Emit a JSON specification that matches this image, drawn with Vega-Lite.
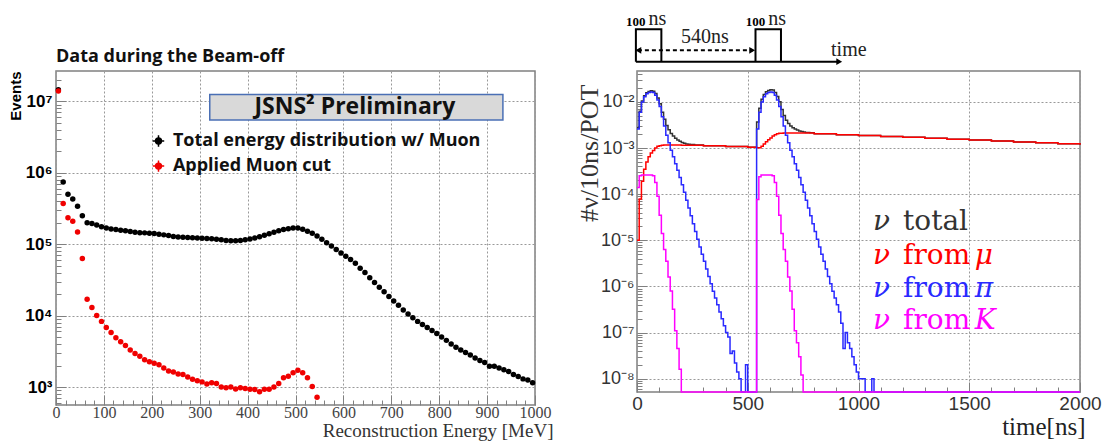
{
  "$schema": "https://vega.github.io/schema/vega-lite/v6.json",
  "padding": {"left": 7, "top": 8, "right": 5, "bottom": 0},
  "background": "white",
  "columns": 2,
  "align": "each",
  "bounds": "flush",
  "spacing": {"row": 5, "column": 102},
  "resolve": {"scale": {"x": "independent", "y": "independent", "color": "independent", "shape": "independent"}},
  "config": {
    "view": {"stroke": "#808080", "strokeWidth": 1.5},
    "axis": {"domain": false, "gridColor": "#999999", "gridDash": [2, 2], "gridWidth": 1, "tickColor": "#808080", "tickWidth": 1, "labelFlush": false, "labelOverlap": false}
  },
  "datasets": {
    "energy": [
      {"s":"total","E":5,"n":14500000},{"s":"total","E":15,"n":740000},{"s":"total","E":25,"n":500000},{"s":"total","E":35,"n":430000},{"s":"total","E":45,"n":340000},{"s":"total","E":55,"n":250000},{"s":"total","E":65,"n":200000},{"s":"total","E":75,"n":195000},{"s":"total","E":85,"n":185000},{"s":"total","E":95,"n":175000},
      {"s":"total","E":105,"n":168000},{"s":"total","E":115,"n":163000},{"s":"total","E":125,"n":160000},{"s":"total","E":135,"n":157000},{"s":"total","E":145,"n":154000},{"s":"total","E":155,"n":150000},{"s":"total","E":165,"n":147000},{"s":"total","E":175,"n":145000},{"s":"total","E":185,"n":144000},{"s":"total","E":195,"n":142000},
      {"s":"total","E":205,"n":141000},{"s":"total","E":215,"n":138000},{"s":"total","E":225,"n":135000},{"s":"total","E":235,"n":132000},{"s":"total","E":245,"n":128000},{"s":"total","E":255,"n":126000},{"s":"total","E":265,"n":125000},{"s":"total","E":275,"n":124000},{"s":"total","E":285,"n":123000},{"s":"total","E":295,"n":122000},
      {"s":"total","E":305,"n":121000},{"s":"total","E":315,"n":120000},{"s":"total","E":325,"n":119000},{"s":"total","E":335,"n":117000},{"s":"total","E":345,"n":115000},{"s":"total","E":355,"n":113000},{"s":"total","E":365,"n":112000},{"s":"total","E":375,"n":112000},{"s":"total","E":385,"n":113000},{"s":"total","E":395,"n":115000},
      {"s":"total","E":405,"n":118000},{"s":"total","E":415,"n":122000},{"s":"total","E":425,"n":127000},{"s":"total","E":435,"n":133000},{"s":"total","E":445,"n":140000},{"s":"total","E":455,"n":147000},{"s":"total","E":465,"n":154000},{"s":"total","E":475,"n":160000},{"s":"total","E":485,"n":164000},{"s":"total","E":495,"n":168000},
      {"s":"total","E":505,"n":168000},{"s":"total","E":515,"n":162000},{"s":"total","E":525,"n":152000},{"s":"total","E":535,"n":142000},{"s":"total","E":545,"n":130000},{"s":"total","E":555,"n":117000},{"s":"total","E":565,"n":105000},{"s":"total","E":575,"n":94000},{"s":"total","E":585,"n":84000},{"s":"total","E":595,"n":75000},
      {"s":"total","E":605,"n":68000},{"s":"total","E":615,"n":61000},{"s":"total","E":625,"n":54000},{"s":"total","E":635,"n":46000},{"s":"total","E":645,"n":40000},{"s":"total","E":655,"n":34000},{"s":"total","E":665,"n":29000},{"s":"total","E":675,"n":25000},{"s":"total","E":685,"n":21500},{"s":"total","E":695,"n":18500},
      {"s":"total","E":705,"n":16000},{"s":"total","E":715,"n":14000},{"s":"total","E":725,"n":12000},{"s":"total","E":735,"n":10500},{"s":"total","E":745,"n":9300},{"s":"total","E":755,"n":8300},{"s":"total","E":765,"n":7500},{"s":"total","E":775,"n":6800},{"s":"total","E":785,"n":6200},{"s":"total","E":795,"n":5600},
      {"s":"total","E":805,"n":5000},{"s":"total","E":815,"n":4500},{"s":"total","E":825,"n":4000},{"s":"total","E":835,"n":3600},{"s":"total","E":845,"n":3300},{"s":"total","E":855,"n":3050},{"s":"total","E":865,"n":2800},{"s":"total","E":875,"n":2550},{"s":"total","E":885,"n":2350},{"s":"total","E":895,"n":2200},
      {"s":"total","E":905,"n":1950},{"s":"total","E":915,"n":1950},{"s":"total","E":925,"n":1850},{"s":"total","E":935,"n":1750},{"s":"total","E":945,"n":1650},{"s":"total","E":955,"n":1500},{"s":"total","E":965,"n":1400},{"s":"total","E":975,"n":1300},{"s":"total","E":985,"n":1250},{"s":"total","E":995,"n":1150},
      {"s":"cut","E":5,"n":14000000},{"s":"cut","E":15,"n":370000},{"s":"cut","E":25,"n":235000},{"s":"cut","E":35,"n":210000},{"s":"cut","E":45,"n":148000},{"s":"cut","E":55,"n":63000},{"s":"cut","E":65,"n":17000},{"s":"cut","E":75,"n":13000},{"s":"cut","E":85,"n":10000},{"s":"cut","E":95,"n":8300},
      {"s":"cut","E":105,"n":6800},{"s":"cut","E":115,"n":5800},{"s":"cut","E":125,"n":4900},{"s":"cut","E":135,"n":4300},{"s":"cut","E":145,"n":3800},{"s":"cut","E":155,"n":3300},{"s":"cut","E":165,"n":2950},{"s":"cut","E":175,"n":2700},{"s":"cut","E":185,"n":2400},{"s":"cut","E":195,"n":2250},
      {"s":"cut","E":205,"n":2150},{"s":"cut","E":215,"n":2050},{"s":"cut","E":225,"n":1850},{"s":"cut","E":235,"n":1680},{"s":"cut","E":245,"n":1620},{"s":"cut","E":255,"n":1520},{"s":"cut","E":265,"n":1500},{"s":"cut","E":275,"n":1380},{"s":"cut","E":285,"n":1280},{"s":"cut","E":295,"n":1220},
      {"s":"cut","E":305,"n":1180},{"s":"cut","E":315,"n":1100},{"s":"cut","E":325,"n":1150},{"s":"cut","E":335,"n":1120},{"s":"cut","E":345,"n":1000},{"s":"cut","E":355,"n":980},{"s":"cut","E":365,"n":1000},{"s":"cut","E":375,"n":940},{"s":"cut","E":385,"n":980},{"s":"cut","E":395,"n":950},
      {"s":"cut","E":405,"n":930},{"s":"cut","E":415,"n":920},{"s":"cut","E":425,"n":860},{"s":"cut","E":435,"n":930},{"s":"cut","E":445,"n":930},{"s":"cut","E":455,"n":1000},{"s":"cut","E":465,"n":1120},{"s":"cut","E":475,"n":1350},{"s":"cut","E":485,"n":1420},{"s":"cut","E":495,"n":1580},
      {"s":"cut","E":505,"n":1720},{"s":"cut","E":515,"n":1580},{"s":"cut","E":525,"n":1350},{"s":"cut","E":535,"n":1020},{"s":"cut","E":545,"n":720}
    ],
    "eleg": [
      {"s":"total","label":"Total energy distribution w/ Muon","n":2780000},
      {"s":"cut","label":"Applied Muon cut","n":1240000}
    ],
    "banner": [{"label":"JSNS² Preliminary"}],
    "tlines": [
      {"g":"box1","i":0,"x":-5,"y":4.3},{"g":"box1","i":1,"x":-5,"y":36.7},{"g":"box1","i":2,"x":110,"y":36.7},{"g":"box1","i":3,"x":110,"y":4.3},
      {"g":"box2","i":0,"x":535,"y":4.3},{"g":"box2","i":1,"x":535,"y":36.7},{"g":"box2","i":2,"x":650,"y":36.7},{"g":"box2","i":3,"x":650,"y":4.3},
      {"g":"base","i":0,"x":-5,"y":4.3},{"g":"base","i":1,"x":912,"y":4.3}
    ],
    "tspan": [{"g":"span","i":0,"x":4,"y":15.7},{"g":"span","i":1,"x":524,"y":15.7}],
    "theads": [{"dir":"right","x":913,"y":4.3},{"dir":"left","x":6,"y":15.7},{"dir":"right","x":520,"y":15.7}],
    "tlabels": [
      {"k":"num","t":"100","x":-50,"y":40},{"k":"num","t":"100","x":491,"y":40},
      {"k":"unit","t":"ns","x":52,"y":41.5},{"k":"unit","t":"ns","x":593,"y":41.5},
      {"k":"gap","t":"540ns","x":199,"y":23.5},{"k":"axis","t":"time","x":876,"y":10.5}
    ],
    "flux": [
      {"s":"total","t":0,"v":0.00275},{"s":"total","t":10,"v":0.0063},{"s":"total","t":20,"v":0.0105},{"s":"total","t":30,"v":0.0136},{"s":"total","t":40,"v":0.0158},{"s":"total","t":50,"v":0.0169},{"s":"total","t":60,"v":0.0175},{"s":"total","t":70,"v":0.0171},{"s":"total","t":80,"v":0.0152},{"s":"total","t":90,"v":0.0122},
      {"s":"total","t":100,"v":0.0092},{"s":"total","t":110,"v":0.006},{"s":"total","t":120,"v":0.0042},{"s":"total","t":130,"v":0.0031},{"s":"total","t":140,"v":0.0025},{"s":"total","t":150,"v":0.00207},{"s":"total","t":160,"v":0.00182},{"s":"total","t":170,"v":0.00163},{"s":"total","t":180,"v":0.0015},{"s":"total","t":190,"v":0.0014},
      {"s":"total","t":200,"v":0.00132},{"s":"total","t":210,"v":0.00127},{"s":"total","t":220,"v":0.00123},{"s":"total","t":230,"v":0.00121},{"s":"total","t":240,"v":0.00119},{"s":"total","t":260,"v":0.00117},{"s":"total","t":300,"v":0.00112},{"s":"total","t":400,"v":0.00108},{"s":"total","t":500,"v":0.00104},
      {"s":"total","t":540,"v":0.0037},{"s":"total","t":550,"v":0.0073},{"s":"total","t":560,"v":0.0114},{"s":"total","t":570,"v":0.0145},{"s":"total","t":580,"v":0.0166},{"s":"total","t":590,"v":0.0178},{"s":"total","t":600,"v":0.0184},{"s":"total","t":610,"v":0.0181},{"s":"total","t":620,"v":0.0161},{"s":"total","t":630,"v":0.0131},
      {"s":"total","t":640,"v":0.0101},{"s":"total","t":650,"v":0.0069},{"s":"total","t":660,"v":0.0051},{"s":"total","t":670,"v":0.004},{"s":"total","t":680,"v":0.0034},{"s":"total","t":690,"v":0.003},{"s":"total","t":700,"v":0.00278},{"s":"total","t":710,"v":0.00259},{"s":"total","t":720,"v":0.00246},{"s":"total","t":730,"v":0.00236},
      {"s":"total","t":740,"v":0.00229},{"s":"total","t":750,"v":0.00223},{"s":"total","t":760,"v":0.00219},{"s":"total","t":770,"v":0.00217},{"s":"total","t":780,"v":0.00215},{"s":"total","t":800,"v":0.00205},{"s":"total","t":900,"v":0.00196},{"s":"total","t":1000,"v":0.00187},{"s":"total","t":1100,"v":0.00179},{"s":"total","t":1200,"v":0.00171},
      {"s":"total","t":1300,"v":0.00163},{"s":"total","t":1400,"v":0.00156},{"s":"total","t":1500,"v":0.00149},{"s":"total","t":1600,"v":0.00142},{"s":"total","t":1700,"v":0.00136},{"s":"total","t":1800,"v":0.0013},{"s":"total","t":1900,"v":0.00124},{"s":"total","t":2000,"v":0.00118},
      {"s":"mu","t":0,"v":0.00001},{"s":"mu","t":10,"v":0.000079},{"s":"mu","t":20,"v":0.00019},{"s":"mu","t":30,"v":0.00035},{"s":"mu","t":40,"v":0.0005},{"s":"mu","t":50,"v":0.00065},{"s":"mu","t":60,"v":0.00078},{"s":"mu","t":70,"v":0.00089},{"s":"mu","t":80,"v":0.001},{"s":"mu","t":90,"v":0.0011},
      {"s":"mu","t":100,"v":0.00113},{"s":"mu","t":110,"v":0.00116},{"s":"mu","t":120,"v":0.00117},{"s":"mu","t":200,"v":0.00116},{"s":"mu","t":300,"v":0.00112},{"s":"mu","t":400,"v":0.00108},{"s":"mu","t":500,"v":0.00104},{"s":"mu","t":540,"v":0.00102},{"s":"mu","t":560,"v":0.0011},{"s":"mu","t":570,"v":0.00123},
      {"s":"mu","t":580,"v":0.00138},{"s":"mu","t":590,"v":0.00151},{"s":"mu","t":600,"v":0.00166},{"s":"mu","t":610,"v":0.00182},{"s":"mu","t":620,"v":0.00195},{"s":"mu","t":630,"v":0.00204},{"s":"mu","t":640,"v":0.00209},{"s":"mu","t":650,"v":0.00211},{"s":"mu","t":660,"v":0.00213},{"s":"mu","t":700,"v":0.00213},
      {"s":"mu","t":800,"v":0.00205},{"s":"mu","t":900,"v":0.00196},{"s":"mu","t":1000,"v":0.00187},{"s":"mu","t":1100,"v":0.00179},{"s":"mu","t":1200,"v":0.00171},{"s":"mu","t":1300,"v":0.00163},{"s":"mu","t":1400,"v":0.00156},{"s":"mu","t":1500,"v":0.00149},{"s":"mu","t":1600,"v":0.00142},{"s":"mu","t":1700,"v":0.00136},
      {"s":"mu","t":1800,"v":0.0013},{"s":"mu","t":1900,"v":0.00124},{"s":"mu","t":2000,"v":0.00118},
      {"s":"pi","t":0,"v":0.0026},{"s":"pi","t":10,"v":0.006},{"s":"pi","t":20,"v":0.01},{"s":"pi","t":30,"v":0.013},{"s":"pi","t":40,"v":0.015},{"s":"pi","t":50,"v":0.016},{"s":"pi","t":60,"v":0.0165},{"s":"pi","t":70,"v":0.016},{"s":"pi","t":80,"v":0.014},{"s":"pi","t":90,"v":0.011},
      {"s":"pi","t":100,"v":0.008},{"s":"pi","t":110,"v":0.0048},{"s":"pi","t":120,"v":0.003},{"s":"pi","t":130,"v":0.0019},{"s":"pi","t":140,"v":0.0013},{"s":"pi","t":150,"v":0.0009},{"s":"pi","t":160,"v":0.00065},{"s":"pi","t":170,"v":0.00046},{"s":"pi","t":180,"v":0.00033},{"s":"pi","t":190,"v":0.00023},
      {"s":"pi","t":200,"v":0.00016},{"s":"pi","t":210,"v":0.00011},{"s":"pi","t":220,"v":0.000074},{"s":"pi","t":230,"v":0.00005},{"s":"pi","t":240,"v":0.000034},{"s":"pi","t":250,"v":0.000023},{"s":"pi","t":260,"v":0.0000155},{"s":"pi","t":270,"v":0.0000105},{"s":"pi","t":280,"v":0.0000072},{"s":"pi","t":290,"v":0.000005},
      {"s":"pi","t":300,"v":0.0000035},{"s":"pi","t":310,"v":0.0000024},{"s":"pi","t":320,"v":0.00000165},{"s":"pi","t":330,"v":0.00000115},{"s":"pi","t":340,"v":7.9e-7},{"s":"pi","t":350,"v":5.6e-7},{"s":"pi","t":360,"v":4.0e-7},{"s":"pi","t":370,"v":2.8e-7},{"s":"pi","t":380,"v":2.0e-7},{"s":"pi","t":390,"v":1.4e-7},
      {"s":"pi","t":400,"v":1.0e-7},{"s":"pi","t":410,"v":8.0e-8},{"s":"pi","t":420,"v":3.5e-8},{"s":"pi","t":430,"v":4.0e-8},{"s":"pi","t":440,"v":2.2e-8},{"s":"pi","t":450,"v":1.4e-8},{"s":"pi","t":460,"v":1.0e-8},{"s":"pi","t":470,"v":5.14e-9},{"s":"pi","t":490,"v":2.0e-8},{"s":"pi","t":500,"v":5.14e-9},
      {"s":"pi","t":540,"v":0.0026},{"s":"pi","t":550,"v":0.006},{"s":"pi","t":560,"v":0.01},{"s":"pi","t":570,"v":0.013},{"s":"pi","t":580,"v":0.015},{"s":"pi","t":590,"v":0.016},{"s":"pi","t":600,"v":0.0165},{"s":"pi","t":610,"v":0.016},{"s":"pi","t":620,"v":0.014},{"s":"pi","t":630,"v":0.011},
      {"s":"pi","t":640,"v":0.008},{"s":"pi","t":650,"v":0.0048},{"s":"pi","t":660,"v":0.003},{"s":"pi","t":670,"v":0.0019},{"s":"pi","t":680,"v":0.0013},{"s":"pi","t":690,"v":0.0009},{"s":"pi","t":700,"v":0.00065},{"s":"pi","t":710,"v":0.00046},{"s":"pi","t":720,"v":0.00033},{"s":"pi","t":730,"v":0.00023},
      {"s":"pi","t":740,"v":0.00016},{"s":"pi","t":750,"v":0.00011},{"s":"pi","t":760,"v":0.000074},{"s":"pi","t":770,"v":0.00005},{"s":"pi","t":780,"v":0.000034},{"s":"pi","t":790,"v":0.000023},{"s":"pi","t":800,"v":0.0000155},{"s":"pi","t":810,"v":0.0000105},{"s":"pi","t":820,"v":0.0000072},{"s":"pi","t":830,"v":0.000005},
      {"s":"pi","t":840,"v":0.0000035},{"s":"pi","t":850,"v":0.0000024},{"s":"pi","t":860,"v":0.00000165},{"s":"pi","t":870,"v":0.00000115},{"s":"pi","t":880,"v":7.9e-7},{"s":"pi","t":890,"v":5.6e-7},{"s":"pi","t":900,"v":4.0e-7},{"s":"pi","t":910,"v":2.8e-7},{"s":"pi","t":920,"v":1.6e-7},{"s":"pi","t":930,"v":4.5e-8},
      {"s":"pi","t":940,"v":1.0e-7},{"s":"pi","t":950,"v":6.0e-8},{"s":"pi","t":960,"v":4.5e-8},{"s":"pi","t":970,"v":3.0e-8},{"s":"pi","t":980,"v":2.0e-8},{"s":"pi","t":990,"v":1.4e-8},{"s":"pi","t":1000,"v":1.0e-8},{"s":"pi","t":1030,"v":5.14e-9},{"s":"pi","t":1060,"v":1.0e-8},{"s":"pi","t":1070,"v":5.14e-9},
      {"s":"pi","t":2000,"v":5.14e-9},
      {"s":"K","t":0,"v":0.00014},{"s":"K","t":10,"v":0.00025},{"s":"K","t":20,"v":0.00026},{"s":"K","t":70,"v":0.00025},{"s":"K","t":80,"v":0.00018},{"s":"K","t":90,"v":0.00009},{"s":"K","t":100,"v":0.000035},{"s":"K","t":110,"v":0.000014},{"s":"K","t":120,"v":0.0000063},{"s":"K","t":130,"v":0.0000035},
      {"s":"K","t":140,"v":0.0000016},{"s":"K","t":150,"v":8.0e-7},{"s":"K","t":160,"v":3.2e-7},{"s":"K","t":170,"v":1.1e-7},{"s":"K","t":180,"v":4.5e-8},{"s":"K","t":190,"v":1.6e-8},{"s":"K","t":200,"v":5.14e-9},
      {"s":"K","t":540,"v":0.000077},{"s":"K","t":550,"v":0.00024},{"s":"K","t":560,"v":0.00026},{"s":"K","t":610,"v":0.00025},{"s":"K","t":620,"v":0.00018},{"s":"K","t":630,"v":0.00009},{"s":"K","t":640,"v":0.000035},{"s":"K","t":650,"v":0.000014},{"s":"K","t":660,"v":0.0000063},{"s":"K","t":670,"v":0.0000035},
      {"s":"K","t":680,"v":0.0000016},{"s":"K","t":690,"v":8.0e-7},{"s":"K","t":700,"v":3.2e-7},{"s":"K","t":710,"v":1.1e-7},{"s":"K","t":720,"v":6.0e-8},{"s":"K","t":730,"v":3.0e-8},{"s":"K","t":740,"v":1.2e-8},{"s":"K","t":750,"v":5.14e-9},{"s":"K","t":2000,"v":5.14e-9}
    ],
    "nleg": [
      {"s":"total","word":"total","part":"","v":1.67e-5},
      {"s":"mu","word":"from","part":"μ","v":3.06e-6},
      {"s":"pi","word":"from","part":"π","v":5.9e-7},
      {"s":"K","word":"from","part":"K","v":1.19e-7}
    ]
  },
  "concat": [
    {
      "width": 479, "height": 55,
      "view": {"stroke": null},
      "data": {"values": []},
      "mark": "point",
      "encoding": {}
    },
    {
      "width": 443, "height": 55,
      "view": {"stroke": null},
      "layer": [
        {
          "data": {"name": "tlines"},
          "mark": {"type": "line", "color": "black", "strokeWidth": 2},
          "encoding": {
            "x": {"field": "x", "type": "quantitative", "scale": {"domain": [0, 2000], "nice": false, "zero": false}, "axis": null},
            "y": {"field": "y", "type": "quantitative", "scale": {"domain": [0, 55], "nice": false, "zero": false}, "axis": null},
            "detail": {"field": "g"},
            "order": {"field": "i"}
          }
        },
        {
          "data": {"name": "tspan"},
          "mark": {"type": "line", "color": "black", "strokeWidth": 2, "strokeDash": [4, 3]},
          "encoding": {
            "x": {"field": "x", "type": "quantitative", "axis": null},
            "y": {"field": "y", "type": "quantitative", "axis": null},
            "order": {"field": "i"}
          }
        },
        {
          "data": {"name": "theads"},
          "mark": {"type": "point", "filled": true, "color": "black", "opacity": 1, "size": 45},
          "encoding": {
            "x": {"field": "x", "type": "quantitative", "axis": null},
            "y": {"field": "y", "type": "quantitative", "axis": null},
            "shape": {"field": "dir", "type": "nominal", "scale": {"domain": ["left", "right"], "range": ["triangle-left", "triangle-right"]}, "legend": null}
          }
        },
        {
          "data": {"name": "tlabels"},
          "transform": [{"filter": "datum.k == 'num'"}],
          "mark": {"type": "text", "align": "left", "baseline": "alphabetic", "font": "Liberation Serif", "fontSize": 13, "fontWeight": "bold", "color": "black"},
          "encoding": {"x": {"field": "x", "type": "quantitative", "axis": null}, "y": {"field": "y", "type": "quantitative", "axis": null}, "text": {"field": "t"}}
        },
        {
          "data": {"name": "tlabels"},
          "transform": [{"filter": "datum.k != 'num'"}],
          "mark": {"type": "text", "align": "left", "baseline": "alphabetic", "font": "Liberation Serif", "fontSize": 20, "color": "#222222"},
          "encoding": {"x": {"field": "x", "type": "quantitative", "axis": null}, "y": {"field": "y", "type": "quantitative", "axis": null}, "text": {"field": "t"}}
        }
      ]
    },
    {
      "width": 479, "height": 334,
      "title": {"text": "Data during the Beam-off", "anchor": "start", "frame": "group", "font": "Open Sans", "fontSize": 18, "fontWeight": "bold", "color": "#111111", "offset": 5},
      "resolve": {"axis": {"x": "independent", "y": "independent"}},
      "layer": [
        {
          "data": {"name": "energy"},
          "transform": [{"filter": "datum.s == 'total'"}],
          "mark": {"type": "point", "filled": true, "opacity": 1, "size": 30, "color": "#000000"},
          "encoding": {
            "x": {"field": "E", "type": "quantitative", "scale": {"domain": [0, 1000], "nice": false, "zero": false}, "axis": {
              "orient": "bottom",
              "values": [0,100,200,300,400,500,600,700,800,900,1000],
              "format": "d",
              "labelFont": "Liberation Serif", "labelFontSize": 16, "labelColor": "#444444", "labelPadding": 9,
              "tickSize": -10, "grid": true,
              "title": "Reconstruction Energy [MeV]", "titleFont": "Liberation Serif", "titleFontSize": 19, "titleFontWeight": "normal", "titleColor": "#333333",
              "titleX": 497, "titleAlign": "right", "titlePadding": 1
            }},
            "y": {"field": "n", "type": "quantitative", "scale": {"type": "log", "domain": [560, 26600000], "nice": false}, "axis": {
              "orient": "left",
              "values": [1000, 10000, 100000, 1000000, 10000000],
              "labelExpr": "'10' + replace(replace(replace(replace(replace('' + round(log(datum.value)/LN10), '3', '³'), '4', '⁴'), '5', '⁵'), '6', '⁶'), '7', '⁷')",
              "labelFont": "Liberation Sans", "labelFontSize": 17, "labelFontWeight": "bold", "labelColor": "#000000", "labelPadding": 14,
              "tickSize": -10, "grid": true,
              "title": "Events", "titleFont": "Liberation Sans", "titleFontSize": 15, "titleFontWeight": "bold", "titleColor": "#000000", "titleAnchor": "end", "titlePadding": 1
            }}
          }
        },
        {
          "data": {"name": "energy"},
          "transform": [{"filter": "datum.s == 'cut'"}],
          "mark": {"type": "point", "filled": true, "opacity": 1, "size": 30, "color": "#f00000"},
          "encoding": {
            "x": {"field": "E", "type": "quantitative", "axis": {
              "orient": "bottom",
              "values": [20,40,60,80,120,140,160,180,220,240,260,280,320,340,360,380,420,440,460,480,520,540,560,580,620,640,660,680,720,740,760,780,820,840,860,880,920,940,960,980],
              "labels": false, "grid": false, "tickSize": -5, "title": null
            }},
            "y": {"field": "n", "type": "quantitative", "axis": {
              "orient": "left",
              "values": [600,700,800,900,2000,3000,4000,5000,6000,7000,8000,9000,20000,30000,40000,50000,60000,70000,80000,90000,200000,300000,400000,500000,600000,700000,800000,900000,2000000,3000000,4000000,5000000,6000000,7000000,8000000,9000000,20000000],
              "labels": false, "grid": false, "tickSize": -5, "title": null
            }}
          }
        },
        {
          "data": {"name": "banner"},
          "mark": {"type": "rect", "fill": "#d9d9d9", "stroke": "#4a6fb5", "strokeWidth": 1.5},
          "encoding": {
            "x": {"datum": 321, "type": "quantitative", "axis": null},
            "x2": {"datum": 933},
            "y": {"datum": 5500000, "type": "quantitative", "axis": null},
            "y2": {"datum": 12500000}
          }
        },
        {
          "data": {"name": "banner"},
          "mark": {"type": "text", "align": "center", "baseline": "middle", "font": "Open Sans", "fontSize": 23, "fontWeight": "bold", "color": "#111111"},
          "encoding": {
            "x": {"datum": 624, "type": "quantitative", "axis": null},
            "y": {"datum": 8300000, "type": "quantitative", "axis": null},
            "text": {"field": "label"}
          }
        },
        {
          "data": {"name": "eleg"},
          "mark": {"type": "point", "filled": true, "opacity": 1, "size": 55},
          "encoding": {
            "x": {"datum": 214, "type": "quantitative", "axis": null},
            "y": {"field": "n", "type": "quantitative", "axis": null},
            "color": {"field": "s", "type": "nominal", "scale": {"domain": ["total", "cut"], "range": ["#000000", "#f00000"]}, "legend": null}
          }
        },
        {
          "data": {"name": "eleg"},
          "mark": {"type": "point", "shape": "M-1,0L1,0M0,-1L0,1", "filled": false, "opacity": 1, "size": 130, "strokeWidth": 1.5},
          "encoding": {
            "x": {"datum": 214, "type": "quantitative", "axis": null},
            "y": {"field": "n", "type": "quantitative", "axis": null},
            "color": {"field": "s", "type": "nominal", "legend": null}
          }
        },
        {
          "data": {"name": "eleg"},
          "mark": {"type": "text", "align": "left", "baseline": "middle", "font": "Open Sans", "fontSize": 18, "fontWeight": "bold", "color": "#111111"},
          "encoding": {
            "x": {"datum": 244, "type": "quantitative", "axis": null},
            "y": {"field": "n", "type": "quantitative", "axis": null},
            "text": {"field": "label"}
          }
        }
      ]
    },
    {
      "width": 443, "height": 321,
      "resolve": {"axis": {"x": "independent", "y": "independent"}},
      "layer": [
        {
          "data": {"name": "flux"},
          "transform": [{"filter": "datum.s == 'total'"}],
          "mark": {"type": "line", "interpolate": "step-after", "strokeWidth": 1.5},
          "encoding": {
            "x": {"field": "t", "type": "quantitative", "scale": {"domain": [0, 2000], "nice": false, "zero": false}, "axis": {
              "orient": "bottom",
              "values": [0,500,1000,1500,2000],
              "format": "d",
              "labelFont": "Liberation Sans", "labelFontSize": 19, "labelColor": "#333333", "labelPadding": 12,
              "tickSize": -10, "grid": true,
              "title": "time[ns]", "titleFont": "Liberation Serif", "titleFontSize": 25, "titleFontWeight": "normal", "titleColor": "#222222",
              "titleX": 448, "titleAlign": "right", "titlePadding": 1
            }},
            "y": {"field": "v", "type": "quantitative", "scale": {"type": "log", "domain": [5.14e-9, 0.047], "nice": false}, "axis": {
              "orient": "left",
              "values": [1e-8, 1e-7, 1e-6, 1e-5, 1e-4, 1e-3, 1e-2],
              "labelExpr": "'10' + replace(replace(replace(replace(replace(replace(replace(replace('' + round(log(datum.value)/LN10), '-', '⁻'), '2', '²'), '3', '³'), '4', '⁴'), '5', '⁵'), '6', '⁶'), '7', '⁷'), '8', '⁸')",
              "labelFont": "Liberation Sans", "labelFontSize": 18, "labelColor": "#333333", "labelPadding": 13,
              "tickSize": -10, "grid": true,
              "title": "#ν/10ns/POT", "titleFont": "Liberation Serif", "titleFontSize": 26, "titleFontWeight": "normal", "titleColor": "#333333",
              "titleY": 13, "titleAlign": "right", "titlePadding": -2
            }},
            "color": {"field": "s", "type": "nominal", "scale": {"domain": ["total", "mu", "pi", "K"], "range": ["#333333", "#ff0000", "#2a2aff", "#ff00ff"]}, "legend": null}
          }
        },
        {
          "data": {"name": "flux"},
          "transform": [{"filter": "datum.s == 'mu'"}],
          "mark": {"type": "line", "interpolate": "step-after", "strokeWidth": 1.5},
          "encoding": {
            "x": {"field": "t", "type": "quantitative", "axis": {
              "orient": "bottom",
              "values": [100,200,300,400,600,700,800,900,1100,1200,1300,1400,1600,1700,1800,1900],
              "labels": false, "grid": false, "tickSize": -5, "title": null
            }},
            "y": {"field": "v", "type": "quantitative", "axis": {
              "orient": "left",
              "values": [6e-9,7e-9,8e-9,9e-9,2e-8,3e-8,4e-8,5e-8,6e-8,7e-8,8e-8,9e-8,2e-7,3e-7,4e-7,5e-7,6e-7,7e-7,8e-7,9e-7,2e-6,3e-6,4e-6,5e-6,6e-6,7e-6,8e-6,9e-6,2e-5,3e-5,4e-5,5e-5,6e-5,7e-5,8e-5,9e-5,2e-4,3e-4,4e-4,5e-4,6e-4,7e-4,8e-4,9e-4,2e-3,3e-3,4e-3,5e-3,6e-3,7e-3,8e-3,9e-3,2e-2,3e-2,4e-2],
              "labels": false, "grid": false, "tickSize": -5, "title": null
            }},
            "color": {"field": "s", "type": "nominal", "legend": null}
          }
        },
        {
          "data": {"name": "flux"},
          "transform": [{"filter": "datum.s == 'pi'"}],
          "mark": {"type": "line", "interpolate": "step-after", "strokeWidth": 1.5},
          "encoding": {
            "x": {"field": "t", "type": "quantitative", "axis": null},
            "y": {"field": "v", "type": "quantitative", "axis": null},
            "color": {"field": "s", "type": "nominal", "legend": null}
          }
        },
        {
          "data": {"name": "flux"},
          "transform": [{"filter": "datum.s == 'K'"}],
          "mark": {"type": "line", "interpolate": "step-after", "strokeWidth": 1.5},
          "encoding": {
            "x": {"field": "t", "type": "quantitative", "axis": null},
            "y": {"field": "v", "type": "quantitative", "axis": null},
            "color": {"field": "s", "type": "nominal", "legend": null}
          }
        },
        {
          "data": {"name": "nleg"},
          "mark": {"type": "text", "align": "left", "baseline": "alphabetic", "font": "DejaVu Serif", "fontSize": 28, "fontStyle": "italic"},
          "encoding": {
            "x": {"datum": 1066, "type": "quantitative", "axis": null},
            "y": {"field": "v", "type": "quantitative", "axis": null},
            "text": {"value": "ν"},
            "color": {"field": "s", "type": "nominal", "legend": null}
          }
        },
        {
          "data": {"name": "nleg"},
          "mark": {"type": "text", "align": "left", "baseline": "alphabetic", "font": "DejaVu Serif", "fontSize": 28},
          "encoding": {
            "x": {"datum": 1201, "type": "quantitative", "axis": null},
            "y": {"field": "v", "type": "quantitative", "axis": null},
            "text": {"field": "word"},
            "color": {"field": "s", "type": "nominal", "legend": null}
          }
        },
        {
          "data": {"name": "nleg"},
          "mark": {"type": "text", "align": "left", "baseline": "alphabetic", "font": "DejaVu Serif", "fontSize": 28, "fontStyle": "italic"},
          "encoding": {
            "x": {"datum": 1525, "type": "quantitative", "axis": null},
            "y": {"field": "v", "type": "quantitative", "axis": null},
            "text": {"field": "part"},
            "color": {"field": "s", "type": "nominal", "legend": null}
          }
        }
      ]
    }
  ]
}
